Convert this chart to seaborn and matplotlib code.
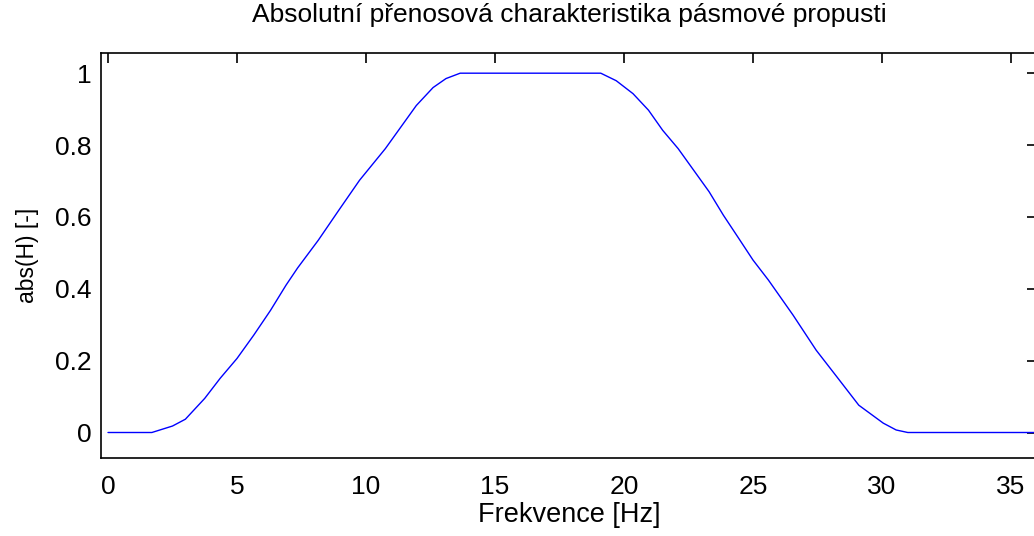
import numpy as np
import pandas as pd
import matplotlib
matplotlib.use("Agg")
import matplotlib.pyplot as plt
import seaborn as sns

# values
freq_hz = [0.0, 1.7, 2.5, 3.0, 3.75, 4.35, 5.0, 5.65, 6.3, 6.9, 7.35, 8.15,
           8.95, 9.75, 10.75, 11.45, 11.95, 12.6, 13.1, 13.65,
           19.1, 19.7, 20.35, 20.95, 21.5, 22.1, 22.7, 23.3, 23.85, 24.45,
           25.0, 25.6, 26.55, 27.45, 28.25, 29.1, 30.05, 30.55, 31.0, 36.0]
abs_h = [0.0, 0.0, 0.018, 0.037, 0.095, 0.151, 0.206, 0.271, 0.34, 0.41, 0.458, 0.535,
         0.619, 0.702, 0.79, 0.86, 0.91, 0.96, 0.985, 1.0,
         1.0, 0.979, 0.943, 0.897, 0.841, 0.79, 0.73, 0.67, 0.605, 0.54,
         0.48, 0.424, 0.327, 0.229, 0.155, 0.076, 0.026, 0.007, 0.0, 0.0]

x_ticks = [0, 5, 10, 15, 20, 25, 30, 35]
y_ticks = [0, 0.2, 0.4, 0.6, 0.8, 1]
y_tick_labels = ["0", "0.2", "0.4", "0.6", "0.8", "1"]

title = "Absolutní přenosová charakteristika pásmové propusti"
x_label = "Frekvence [Hz]"
y_label = "abs(H) [-]"


def main():
    sns.set_theme(style="white")
    plt.rcParams["font.family"] = ["Liberation Sans", "DejaVu Sans"]
    plt.rcParams["text.color"] = "black"
    plt.rcParams["axes.labelcolor"] = "black"
    plt.rcParams["xtick.color"] = "black"
    plt.rcParams["ytick.color"] = "black"

    df = pd.DataFrame({"f": freq_hz, "h": abs_h})

    fig = plt.figure(figsize=(10.34, 5.36), dpi=100)
    ax = fig.add_axes([0.0977, 0.1455, 0.905, 0.7555])
    sns.lineplot(data=df, x="f", y="h", ax=ax, color="#0000ff",
                 linewidth=1.0, sort=False, estimator=None)

    ax.set_xlim(-0.27, 36.0)
    ax.set_ylim(-0.071, 1.056)
    ax.set_xticks(x_ticks)
    ax.set_yticks(y_ticks)
    ax.set_yticklabels(y_tick_labels)
    ax.tick_params(direction="in", length=7, width=1.2, colors="black",
                   top=True, right=True, labelsize=19, pad=6.5)
    ax.tick_params(axis="x", pad=12)
    for s in ax.spines.values():
        s.set_color("black")
        s.set_linewidth(1.2)

    ax.set_title(title, fontsize=19, pad=22.5, color="black")
    ax.set_xlabel(x_label, fontsize=19.5, labelpad=2.5)
    ax.set_ylabel(y_label, fontsize=16.5, labelpad=12)

    fig.savefig("out.png", dpi=100)


if __name__ == "__main__":
    main()
